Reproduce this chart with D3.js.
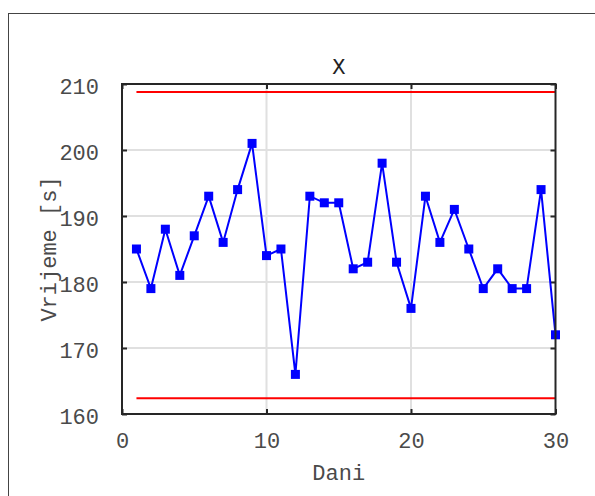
<!DOCTYPE html>
<html><head><meta charset="utf-8">
<script src="https://cdn.jsdelivr.net/npm/d3@7"></script>
<style>body{margin:0;background:#fff}svg{display:block}</style>
</head><body>
<script>
const days = d3.range(1, 31);
const times = [185,179,188,181,187,193,186,194,201,184,185,166,193,192,192,182,183,198,183,176,193,186,191,185,179,182,179,179,194,172];
const ucl = 208.8, lcl = 162.4;
const xTicks = [0,10,20,30];
const yTicks = [160,170,180,190,200,210];
const title = "X", xLabel = "Dani", yLabel = "Vrijeme [s]";

const W = 595, H = 496;
const L = 122, R = 555.5, T = 84, B = 414;
const svg = d3.select("body").append("svg").attr("width", W).attr("height", H);
svg.append("rect").attr("x", 8.5).attr("y", 13.5).attr("width", 600).attr("height", 500)
  .attr("fill", "#fff").attr("stroke", "#444").attr("stroke-width", 1);

const x = d3.scaleLinear().domain([0,30]).range([L,R]);
const y = d3.scaleLinear().domain([160,210]).range([B,T]);
const font = "'Liberation Mono', 'Courier New', monospace";
const txt = "#4a4a4a";

const g = svg.append("g");
g.selectAll(".gx").data(xTicks.slice(1,-1)).join("line")
  .attr("x1", d=>x(d)).attr("x2", d=>x(d)).attr("y1", T).attr("y2", B)
  .attr("stroke", "#e0e0e0").attr("stroke-width", 2);
g.selectAll(".gy").data(yTicks.slice(1,-1)).join("line")
  .attr("y1", d=>y(d)).attr("y2", d=>y(d)).attr("x1", L).attr("x2", R)
  .attr("stroke", "#e0e0e0").attr("stroke-width", 2);

const axStyle = sel => {
  sel.select(".domain").remove();
  sel.selectAll(".tick line").attr("stroke", "#262626").attr("stroke-width", 2);
  sel.selectAll(".tick text").attr("fill", txt).attr("font-family", font).attr("font-size", 22);
};
svg.append("g").attr("transform", `translate(0,${B})`)
  .call(d3.axisBottom(x).tickValues(xTicks).tickSize(-5).tickPadding(18).tickFormat(d3.format("d"))).call(axStyle);
const ya = svg.append("g").attr("transform", `translate(${L},0)`)
  .call(d3.axisLeft(y).tickValues(yTicks).tickSize(-5).tickPadding(23).tickFormat(d3.format("d"))).call(axStyle);
ya.selectAll(".tick text").attr("dy", "0.42em");
svg.append("g").attr("transform", `translate(0,${T})`)
  .call(d3.axisTop(x).tickValues(xTicks).tickSize(-5).tickFormat("")).call(axStyle);
svg.append("g").attr("transform", `translate(${R},0)`)
  .call(d3.axisRight(y).tickValues(yTicks).tickSize(-5).tickFormat("")).call(axStyle);

[ucl, lcl].forEach(v => {
  svg.append("line").attr("x1", x(1)).attr("x2", x(30)).attr("y1", y(v)).attr("y2", y(v))
    .attr("stroke", "#ff0000").attr("stroke-width", 2);
});

const line = d3.line().x((d,i)=>x(days[i])).y(d=>y(d));
svg.append("path").datum(times).attr("d", line).attr("fill", "none")
  .attr("stroke", "#0000ff").attr("stroke-width", 2).attr("stroke-linejoin", "miter");
const ms = 9;
svg.selectAll(".m").data(times).join("rect")
  .attr("x", (d,i)=>x(days[i]) - ms/2).attr("y", d=>y(d) - ms/2)
  .attr("width", ms).attr("height", ms).attr("fill", "#0000ff");

svg.append("rect").attr("x", L).attr("y", T).attr("width", R-L).attr("height", B-T)
  .attr("fill", "none").attr("stroke", "#262626").attr("stroke-width", 2);

svg.append("text").attr("x", (L+R)/2).attr("y", 74).attr("text-anchor", "middle")
  .attr("font-family", font).attr("font-size", 22).attr("fill", "#222").text(title);
svg.append("text").attr("x", (L+R)/2).attr("y", 480).attr("text-anchor", "middle")
  .attr("font-family", font).attr("font-size", 22).attr("fill", txt).text(xLabel);
svg.append("text").attr("transform", `translate(56,${(T+B)/2}) rotate(-90)`).attr("text-anchor", "middle")
  .attr("font-family", font).attr("font-size", 22).attr("fill", txt).text(yLabel);
</script>
</body></html>
